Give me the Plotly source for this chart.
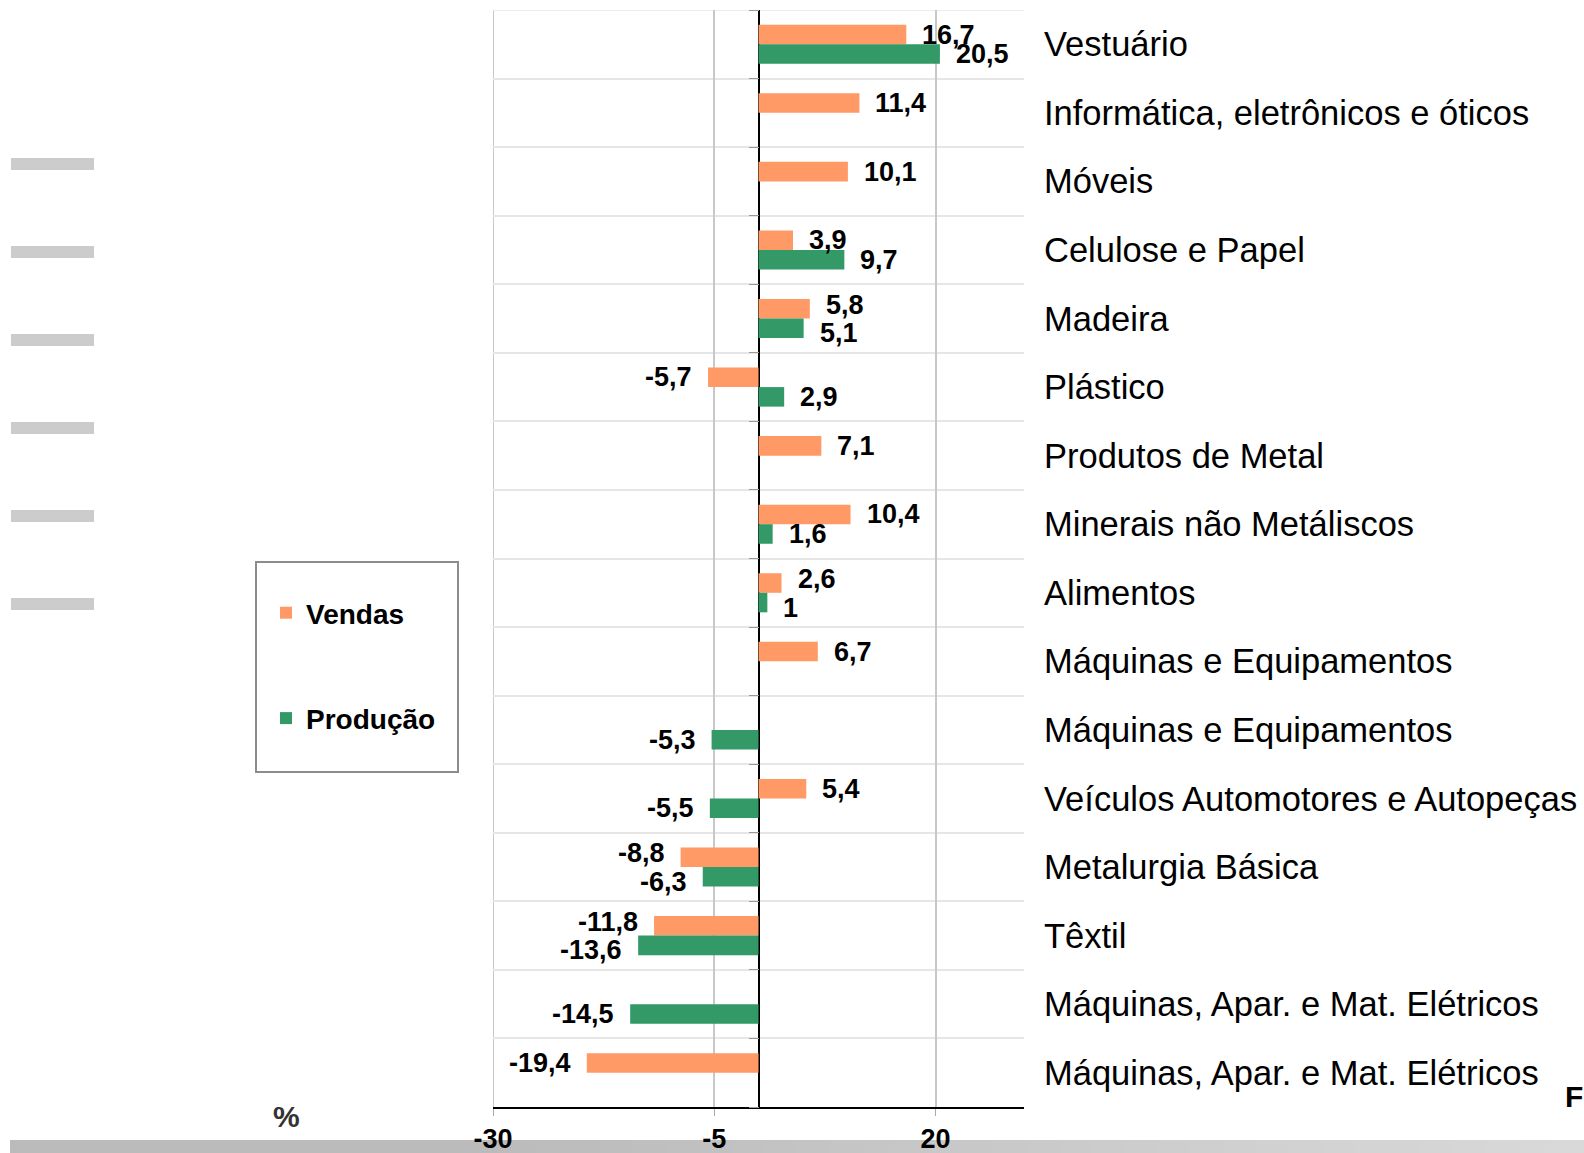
import plotly.graph_objects as go

# ---------------- data ----------------
categories = [
    "Vestuário",
    "Informática, eletrônicos e óticos",
    "Móveis",
    "Celulose e Papel",
    "Madeira",
    "Plástico",
    "Produtos de Metal",
    "Minerais não Metáliscos",
    "Alimentos",
    "Máquinas e Equipamentos",
    "Máquinas e Equipamentos",
    "Veículos Automotores e Autopeças",
    "Metalurgia Básica",
    "Têxtil",
    "Máquinas, Apar. e Mat. Elétricos",
    "Máquinas, Apar. e Mat. Elétricos",
]
vendas = [16.7, 11.4, 10.1, 3.9, 5.8, -5.7, 7.1, 10.4, 2.6, 6.7, None, 5.4, -8.8, -11.8, None, -19.4]
producao = [20.5, None, None, 9.7, 5.1, 2.9, None, 1.6, 1, None, -5.3, -5.5, -6.3, -13.6, -14.5, None]
series_names = ["Vendas", "Produção"]
x_ticks = [-30, -5, 20]
x_range = [-30, 30]

# ---------------- layout helpers (page pixels) ----------------
W, H = 1584, 1153          # browser window
L, R, T, B = 493, 1024, 10, 1107          # plot area in page pixels


def fx(p):
    return (p - L) / (R - L)


def fy(p):
    return (B - p) / (B - T)


ORANGE = "#FF9966"
GREEN = "#339966"
FONT = "Liberation Sans, Arial, sans-serif"
BARGAP = 0.43

n = len(categories)
rows = list(range(n))
boundaries = [i - 0.5 for i in range(n + 1)]


def fmt(v):
    return f"{v:g}".replace(".", ",")


fig = go.Figure()
fig.add_trace(go.Bar(y=rows, x=vendas, orientation="h", name=series_names[0],
                     marker=dict(color=ORANGE, line=dict(width=0)),
                     legendgroup="a", hoverinfo="x+name"))
fig.add_trace(go.Bar(y=rows, x=producao, orientation="h", name=series_names[1],
                     marker=dict(color=GREEN, line=dict(width=0)),
                     legendgroup="b", hoverinfo="x+name"))
# helper trace so the zero-crossing tick axis is drawn
fig.add_trace(go.Scatter(x=[None], y=[None], yaxis="y2", showlegend=False,
                         hoverinfo="skip", mode="markers"))

# ---------------- value labels ----------------
half = (1 - BARGAP) / 4.0
annotations = []
for s_idx, (series, shift) in enumerate(((vendas, -half), (producao, half))):
    other = producao if s_idx == 0 else vendas
    for i, v in enumerate(series):
        if v is None:
            continue
        o = other[i]
        # separate crowded label pairs a little (as the original software did)
        crowd = o is not None and (o >= 0) == (v >= 0) and abs(o - v) < 3
        ys = (4 if s_idx == 0 else -5) if crowd else 0
        annotations.append(dict(
            x=v, y=i + shift, xref="x", yref="y", text=fmt(v), showarrow=False,
            xanchor="left" if v >= 0 else "right", xshift=14 if v >= 0 else -14,
            yanchor="middle", yshift=ys,
            font=dict(family=FONT, size=27, color="black", weight="bold"),
        ))

annotations.append(dict(x=fx(286), y=fy(1116), xref="paper", yref="paper", text="%",
                        showarrow=False, xanchor="center", yanchor="middle",
                        font=dict(family=FONT, size=30, color="#333333", weight="bold")))
annotations.append(dict(x=fx(1565), y=fy(1096), xref="paper", yref="paper", text="F",
                        showarrow=False, xanchor="left", yanchor="middle",
                        borderpad=0, borderwidth=0,
                        font=dict(family=FONT, size=30, color="black", weight="bold")))

# ---------------- decorative shapes ----------------
shapes = []
# left edge gridline and top row boundary
shapes.append(dict(type="line", xref="x", yref="paper", x0=x_range[0], x1=x_range[0],
                   y0=0, y1=1, line=dict(color="#c8c8c8", width=2), layer="below"))
shapes.append(dict(type="line", xref="paper", yref="y", x0=0, x1=1,
                   y0=boundaries[0], y1=boundaries[0],
                   line=dict(color="#e6e6e6", width=1.5), layer="below"))
# legend frame
shapes.append(dict(type="rect", xref="paper", yref="paper",
                   x0=fx(256), x1=fx(458), y0=fy(772), y1=fy(562),
                   line=dict(color="#8c8c8c", width=2), fillcolor="rgba(0,0,0,0)"))
# grey dashes on the left
for c in (164, 252, 340, 428, 516, 604):
    shapes.append(dict(type="rect", xref="paper", yref="paper",
                       x0=fx(11), x1=fx(94), y0=fy(c + 6), y1=fy(c - 6),
                       line=dict(width=0), fillcolor="#cccccc", layer="below"))
# bottom gradient band
nseg = 48
x_start, x_end = 10, W
for k in range(nseg):
    a = x_start + (x_end - x_start) * k / nseg
    b = x_start + (x_end - x_start) * (k + 1) / nseg + 1
    mid = (a + b) / 2
    if mid < 480:
        g = 0xBB
    else:
        t = (mid - 480) / (W - 480)
        g = int(0xBB + (0xDA - 0xBB) * t)
    shapes.append(dict(type="rect", xref="paper", yref="paper",
                       x0=fx(a), x1=fx(b), y0=fy(H), y1=fy(1140),
                       line=dict(width=0), fillcolor=f"rgb({g},{g},{g})", layer="below"))

fig.update_layout(
    template="none",
    width=W, height=H,
    margin=dict(l=L, r=W - R, t=T, b=H - B, pad=0),
    paper_bgcolor="white", plot_bgcolor="white",
    barmode="group", bargap=BARGAP, bargroupgap=0,
    font=dict(family=FONT, color="black"),
    xaxis=dict(
        range=x_range, tickmode="array", tickvals=x_ticks,
        ticktext=[str(t) for t in x_ticks],
        showgrid=True, gridcolor="#c8c8c8", gridwidth=2,
        zeroline=True, zerolinecolor="black", zerolinewidth=1.5,
        showline=True, linecolor="black", linewidth=1.5, mirror=False,
        ticks="outside", ticklen=7, tickwidth=1, tickcolor="#aaaaaa",
        tickfont=dict(family=FONT, size=27, color="black", weight="bold"),
        ticklabelstandoff=0, automargin=False, fixedrange=True,
    ),
    yaxis=dict(
        range=[n - 0.5, -0.5], tickmode="array", tickvals=rows, ticktext=categories,
        side="right", showgrid=False, zeroline=False, showline=False,
        ticks="", ticklabelstandoff=19,
        tickfont=dict(family=FONT, size=34.5, color="black"),
        minor=dict(tickvals=boundaries, showgrid=True, gridcolor="#e6e6e6",
                   gridwidth=1.5, ticks=""),
        automargin=False, fixedrange=True,
    ),
    yaxis2=dict(
        overlaying="y", anchor="free",
        position=(0 - x_range[0]) / (x_range[1] - x_range[0]),
        side="left", range=[n - 0.5, -0.5], tickmode="array", tickvals=boundaries,
        ticks="outside", ticklen=10, tickwidth=1, tickcolor="#999999",
        showticklabels=False, showgrid=False, zeroline=False, showline=False,
        automargin=False, fixedrange=True,
    ),
    legend=dict(
        x=fx(266), y=fy(588), xanchor="left", yanchor="top",
        bgcolor="rgba(0,0,0,0)", borderwidth=0,
        font=dict(family=FONT, size=28, color="black", weight="bold"),
        traceorder="grouped", tracegroupgap=66, itemwidth=30,
    ),
    showlegend=True,
    annotations=annotations,
    shapes=shapes,
)

# remove the browser's default page margin so the figure fills the window exactly
fig.write_html(
    "out.html",
    config={"displayModeBar": False},
    post_script="document.body.style.margin='0';document.body.style.overflow='hidden';",
)
